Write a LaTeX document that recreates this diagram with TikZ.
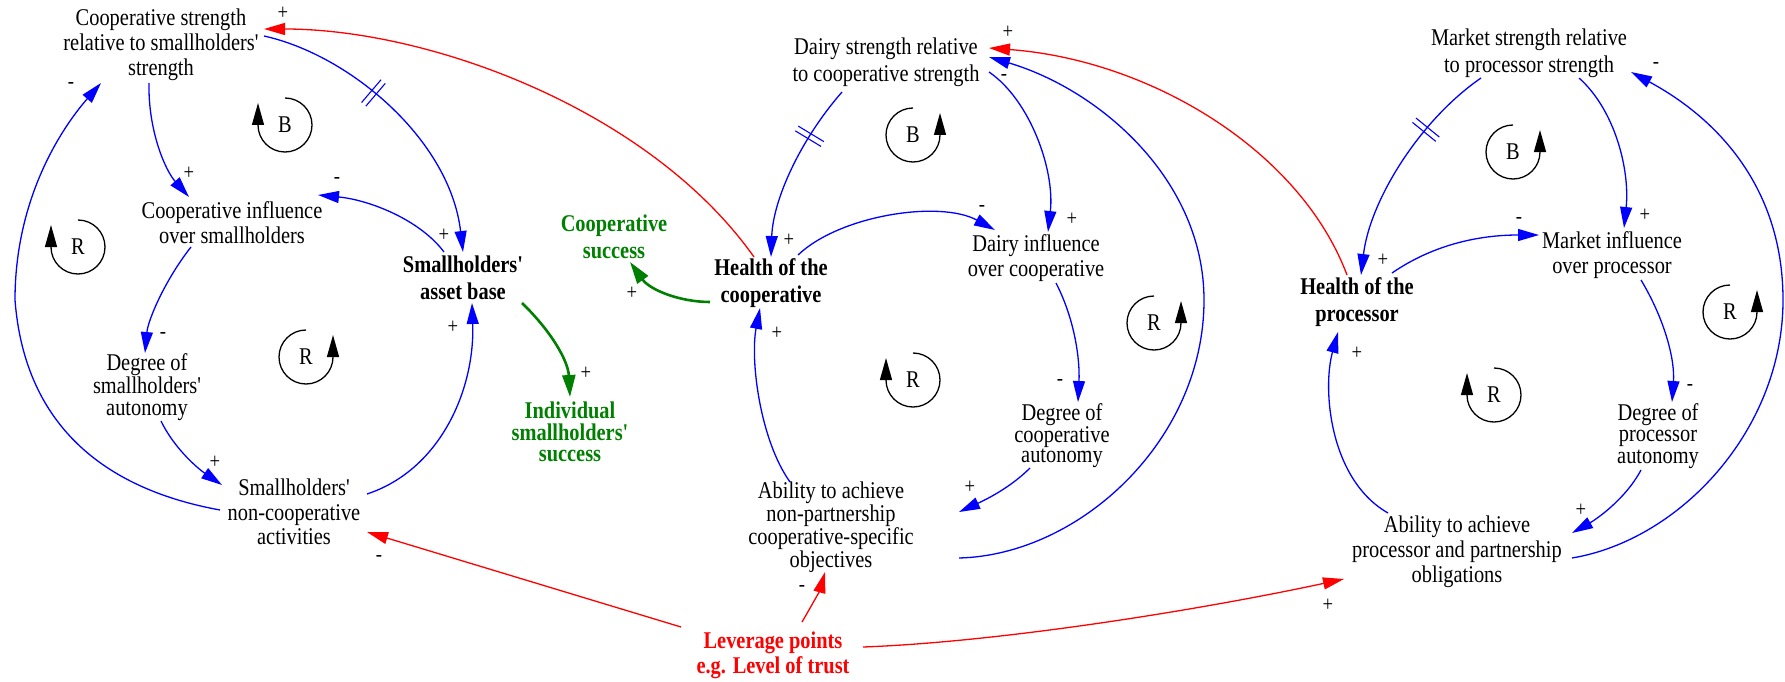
\documentclass[tikz,border=0pt]{standalone}
\usepackage{fontspec}
\setmainfont{Liberation Serif}[FakeStretch=0.85,Ligatures=TeXOff]
\usetikzlibrary{arrows.meta,decorations.markings}
\definecolor{goodgreen}{RGB}{0,128,0}
\tikzset{
  var/.style={align=center, inner sep=0pt, font=\fontsize{24}{#1}\selectfont},
  var/.default=25,
  hub/.style={align=center, inner sep=0pt, font=\fontsize{24}{27}\selectfont\bfseries},
  goal/.style={align=center, inner sep=0pt, text=goodgreen, font=\fontsize{24}{#1}\selectfont\bfseries},
  lever/.style={align=center, inner sep=0pt, text=red, font=\fontsize{24}{25}\selectfont\bfseries},
  sign/.style={inner sep=0pt, font=\fontsize{22}{22}\selectfont},
  looplbl/.style={inner sep=0pt, font=\fontsize{24}{24}\selectfont},
  link/.style={blue, line width=1.3pt, -{Triangle[length=21pt,width=12pt]}},
  redlink/.style={link, red},
  greenlink/.style={goodgreen, line width=2.6pt, -{Triangle[length=22pt,width=13pt]}},
  loopc/.style={black, line width=1.3pt, -{Triangle[length=22pt,width=12pt]}},
  delay/.style={postaction={decorate, decoration={markings,
    mark=at position #1 with {\draw[blue, line width=1.1pt, -]
      (-2.8pt,-15pt) -- (-2.8pt,15pt) (2.8pt,-15pt) -- (2.8pt,15pt);}}}},
}
\begin{document}
\begin{tikzpicture}[x=1pt,y=-1pt]
\useasboundingbox (0,0) rectangle (1785,682);

% ---------- variables ----------
\node[var] (cs) at (161,45) {Cooperative strength\\relative to smallholders'\\strength};
\node[var] (ci) at (232,223) {Cooperative influence\\over smallholders};
\node[hub] (ab) at (463,278) {Smallholders'\\asset base};
\node[var=21.5] (ds) at (147,387) {Degree of\\smallholders'\\autonomy};
\node[var=24.5] (nc) at (294,512) {Smallholders'\\non-cooperative\\activities};
\node[goal=27] (csu) at (614,237) {Cooperative\\success};
\node[goal=21.5] (iss) at (570,432) {Individual\\smallholders'\\success};
\node[hub] (hc) at (771,283) {Health of the\\cooperative};
\node[var=27] (dst) at (886,62) {Dairy strength relative\\to cooperative strength};
\node[var] (di) at (1036,258) {Dairy influence\\over cooperative};
\node[var=20] (dca) at (1062,436) {Degree of\\cooperative\\autonomy};
\node[var=21] (ac) at (831,527) {Ability to achieve\\non-partnership\\cooperative-specific\\objectives};
\node[lever] (lp) at (773,655) {Leverage points\\e.g. Level of trust};
\node[hub] (hp) at (1357,302) {Health of the\\processor};
\node[var=27] (ms) at (1529,53) {Market strength relative\\to processor strength};
\node[var] (mi) at (1612,255) {Market influence\\over processor};
\node[var=21.5] (dpa) at (1658,436) {Degree of\\processor\\autonomy};
\node[var] (ap) at (1457,552) {Ability to achieve\\processor and partnership\\obligations};

% ---------- loop markers ----------
\node[looplbl] (b1) at (285,125) {B};
\draw[loopc] ([yshift=27pt]b1.center) arc[start angle=90,end angle=-180,radius=27pt] -- ++(0,-22);
\node[looplbl] (r1) at (78,247) {R};
\draw[loopc] ([yshift=27pt]r1.center) arc[start angle=90,end angle=-180,radius=27pt] -- ++(0,-22);
\node[looplbl] (r2) at (306,357) {R};
\draw[loopc] ([yshift=27pt]r2.center) arc[start angle=90,end angle=360,radius=27pt] -- ++(0,-22);
\node[looplbl] (b2) at (913,135) {B};
\draw[loopc] ([yshift=27pt]b2.center) arc[start angle=90,end angle=360,radius=27pt] -- ++(0,-22);
\node[looplbl] (r3) at (1154,323) {R};
\draw[loopc] ([yshift=27pt]r3.center) arc[start angle=90,end angle=360,radius=27pt] -- ++(0,-22);
\node[looplbl] (r4) at (913,380) {R};
\draw[loopc] ([yshift=27pt]r4.center) arc[start angle=90,end angle=-180,radius=27pt] -- ++(0,-22);
\node[looplbl] (b3) at (1513,152) {B};
\draw[loopc] ([yshift=27pt]b3.center) arc[start angle=90,end angle=360,radius=27pt] -- ++(0,-22);
\node[looplbl] (r5) at (1730,312) {R};
\draw[loopc] ([yshift=27pt]r5.center) arc[start angle=90,end angle=360,radius=27pt] -- ++(0,-22);
\node[looplbl] (r6) at (1494,395) {R};
\draw[loopc] ([yshift=27pt]r6.center) arc[start angle=90,end angle=-180,radius=27pt] -- ++(0,-22);

% ---------- smallholder side ----------
\draw[redlink] ([shift={(-17,-26)}]hc.center) .. controls (650,110) and (430,29) .. ([shift={(103,-16)}]cs.center);
\draw[link, delay=0.4] ([shift={(103,-9)}]cs.center) .. controls (350,55) and (450,140) .. ([shift={(0,-26)}]ab.center);
\draw[link] ([shift={(-12,38)}]cs.center) .. controls (148,130) and (165,170) .. ([shift={(-43,-26)}]ci.center);
\draw[link] ([shift={(-19,-26)}]ab.center) .. controls (420,220) and (370,200) .. ([shift={(86,-28)}]ci.center);
\draw[link] ([shift={(-41,24)}]ci.center) .. controls (165,280) and (148,320) .. ([shift={(-2,-34)}]ds.center);
\draw[link] ([shift={(14,34)}]ds.center) .. controls (175,450) and (200,470) .. ([shift={(-72,-27)}]nc.center);
\draw[link] ([shift={(-74,-2)}]nc.center) .. controls (110,490) and (25,430) .. (15,300)
  .. controls (15,200) and (60,130) .. ([shift={(-60,38)}]cs.center);
\draw[link] ([shift={(73,-18)}]nc.center) .. controls (440,470) and (475,390) .. ([shift={(9,25)}]ab.center);
\draw[greenlink] ([shift={(59,25)}]ab.center) .. controls (550,330) and (568,360) .. ([shift={(0,-35)}]iss.center);
\draw[greenlink] ([shift={(-61,19)}]hc.center) .. controls (680,302) and (650,290) .. ([shift={(16,25)}]csu.center);

% ---------- cooperative side ----------
\draw[link, delay=0.3] ([shift={(-44,30)}]dst.center) .. controls (800,140) and (773,200) .. ([shift={(0,-26)}]hc.center);
\draw[link] ([shift={(103,10)}]dst.center) .. controls (1030,100) and (1055,170) .. ([shift={(12,-26)}]di.center);
\draw[link] ([shift={(27,-28)}]hc.center) .. controls (840,215) and (940,200) .. ([shift={(-41,-28)}]di.center);
\draw[link] ([shift={(-41,-45)}]ac.center) .. controls (760,440) and (750,360) .. ([shift={(-11,25)}]hc.center);
\draw[link] ([shift={(20,25)}]di.center) .. controls (1075,320) and (1080,360) .. ([shift={(16,-34)}]dca.center);
\draw[link] ([shift={(-32,32)}]dca.center) .. controls (1010,488) and (985,500) .. ([shift={(128,-15)}]ac.center);
\draw[link] ([shift={(128,31)}]ac.center) .. controls (1080,555) and (1204,440) .. (1204,300)
  .. controls (1204,180) and (1100,90) .. ([shift={(103,-5)}]dst.center);
\draw[redlink] ([shift={(-10,-27)}]hp.center) .. controls (1300,150) and (1150,60) .. ([shift={(103,-14)}]dst.center);

% ---------- processor side ----------
\draw[link, delay=0.32] ([shift={(-48,25)}]ms.center) .. controls (1420,120) and (1370,200) .. ([shift={(4,-27)}]hp.center);
\draw[link] ([shift={(50,25)}]ms.center) .. controls (1615,110) and (1630,170) .. ([shift={(12,-27)}]mi.center);
\draw[link] ([shift={(35,-29)}]hp.center) .. controls (1440,240) and (1490,235) .. ([shift={(-73,-20)}]mi.center);
\draw[link] ([shift={(29,25)}]mi.center) .. controls (1665,320) and (1675,360) .. ([shift={(14,-34)}]dpa.center);
\draw[link] ([shift={(-17,34)}]dpa.center) .. controls (1625,500) and (1595,520) .. ([shift={(115,-19)}]ap.center);
\draw[link] ([shift={(-69,-39)}]ap.center) .. controls (1330,480) and (1322,390) .. ([shift={(-19,30)}]hp.center);
\draw[link] ([shift={(115,6)}]ap.center) .. controls (1680,540) and (1783,430) .. (1783,300)
  .. controls (1783,190) and (1720,120) .. ([shift={(102,19)}]ms.center);

% ---------- leverage points ----------
\draw[redlink] ([shift={(-92,-28)}]lp.center) -- ([shift={(73,20)}]nc.center);
\draw[redlink] ([shift={(29,-33)}]lp.center) .. controls (812,605) and (820,590) .. ([shift={(-6,45)}]ac.center);
\draw[redlink] ([shift={(90,-8)}]lp.center) .. controls (1000,642) and (1200,610) .. ([shift={(-113,27)}]ap.center);

% ---------- polarity signs ----------
\node[sign] (p1) at (283,13) {+};
\node[sign] (p2) at (71,85) {-};
\node[sign] (p3) at (189,173) {+};
\node[sign] (p4) at (337,180) {-};
\node[sign] (p5) at (444,235) {+};
\node[sign] (p6) at (163,335) {-};
\node[sign] (p7) at (215,462) {+};
\node[sign] (p8) at (453,327) {+};
\node[sign] (p9) at (379,558) {-};
\node[sign] (p10) at (586,373) {+};
\node[sign] (p11) at (632,293) {+};
\node[sign] (p12) at (1008,32) {+};
\node[sign] (p13) at (1004,77) {-};
\node[sign] (p14) at (1072,219) {+};
\node[sign] (p15) at (789,240) {+};
\node[sign] (p16) at (982,208) {-};
\node[sign] (p17) at (777,333) {+};
\node[sign] (p18) at (1060,382) {-};
\node[sign] (p19) at (970,487) {+};
\node[sign] (p20) at (802,588) {-};
\node[sign] (p21) at (1656,65) {-};
\node[sign] (p22) at (1645,215) {+};
\node[sign] (p23) at (1383,260) {+};
\node[sign] (p24) at (1519,220) {-};
\node[sign] (p25) at (1690,387) {-};
\node[sign] (p26) at (1581,510) {+};
\node[sign] (p27) at (1357,353) {+};
\node[sign] (p28) at (1328,605) {+};
\end{tikzpicture}
\end{document}
